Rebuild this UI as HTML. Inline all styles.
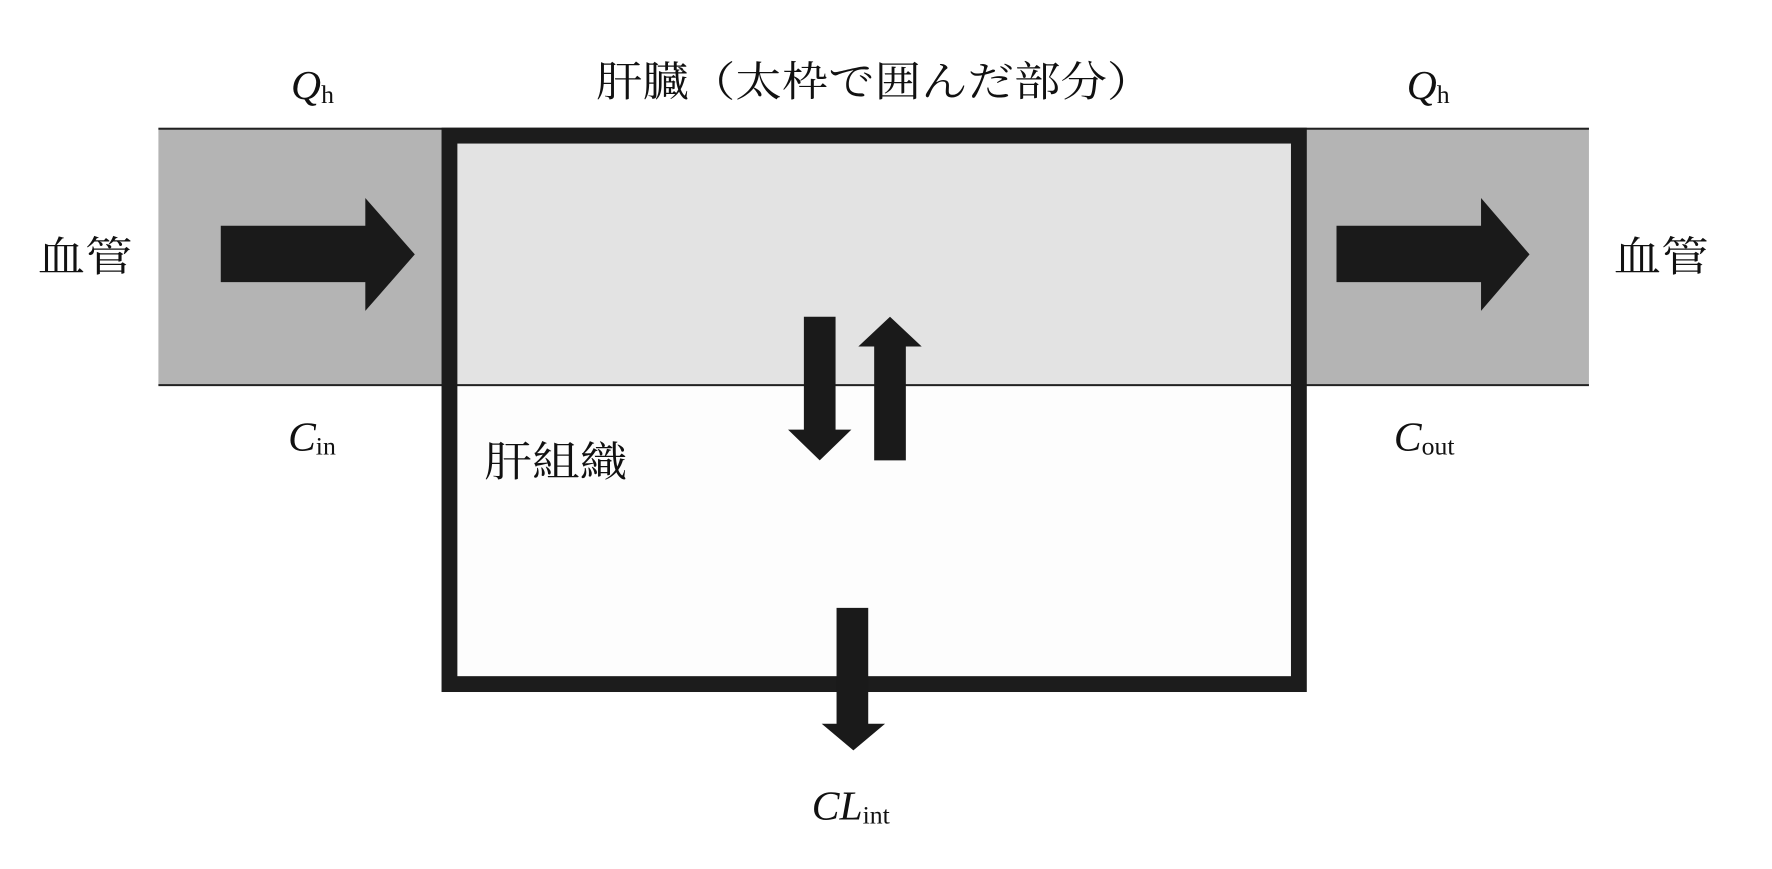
<!DOCTYPE html>
<html><head><meta charset="utf-8"><style>html,body{margin:0;padding:0;background:#fff}</style></head><body>
<svg width="1772" height="864" viewBox="0 0 1772 864" xmlns="http://www.w3.org/2000/svg" font-family="'Liberation Serif','Noto Serif CJK SC',serif">
<rect width="1772" height="864" fill="#fff"/>
<g transform="scale(0.99)">
<rect x="160" y="129" width="1445" height="260" fill="#b4b4b4"/>
<line x1="160" y1="130" x2="1605" y2="130" stroke="#222" stroke-width="2"/>
<line x1="160" y1="389" x2="1605" y2="389" stroke="#222" stroke-width="2"/>
<rect x="454" y="137" width="858" height="252" fill="#e3e3e3"/>
<rect x="454" y="390" width="858" height="301" fill="#fdfdfd"/>
<line x1="454" y1="389" x2="1312" y2="389" stroke="#222" stroke-width="2"/>
<rect x="454" y="137" width="858" height="554" fill="none" stroke="#1c1c1c" stroke-width="16"/>
<g fill="#1a1a1a">
<polygon points="223,228 369,228 369,200 419,257 369,314 369,285 223,285"/>
<polygon points="1350,228 1496,228 1496,200 1545,257 1496,314 1496,285 1350,285"/>
<polygon points="812,320 844,320 844,434 860,434 828,465 796,434 812,434"/>
<polygon points="883,465 915,465 915,350 931,350 899,320 867,350 883,350"/>
<polygon points="845,614 877,614 877,731 894,731 862,758 830,731 845,731"/>
</g>
<g fill="#111" font-size="42">
<text x="602" y="97" textLength="563" lengthAdjust="spacingAndGlyphs" font-family="'Noto Serif CJK SC',serif">肝臓（太枠で囲んだ部分）</text>
<text x="38" y="274" textLength="96" lengthAdjust="spacingAndGlyphs" font-family="'Noto Serif CJK SC',serif">血管</text>
<text x="1630" y="274" textLength="96" lengthAdjust="spacingAndGlyphs" font-family="'Noto Serif CJK SC',serif">血管</text>
<text x="489" y="481" textLength="145" lengthAdjust="spacingAndGlyphs" font-family="'Noto Serif CJK SC',serif">肝組織</text>
<text x="294" y="100" font-style="italic">Q<tspan font-style="normal" font-size="26" dy="4">h</tspan></text>
<text x="1421" y="100" font-style="italic">Q<tspan font-style="normal" font-size="26" dy="4">h</tspan></text>
<text x="291" y="455" font-style="italic">C<tspan font-style="normal" font-size="26" dy="4">in</tspan></text>
<text x="1408" y="455" font-style="italic">C<tspan font-style="normal" font-size="26" dy="4">out</tspan></text>
<text x="820" y="828" font-style="italic">CL<tspan font-style="normal" font-size="26" dy="4">int</tspan></text>
</g>
</g>
</svg>
</body></html>
